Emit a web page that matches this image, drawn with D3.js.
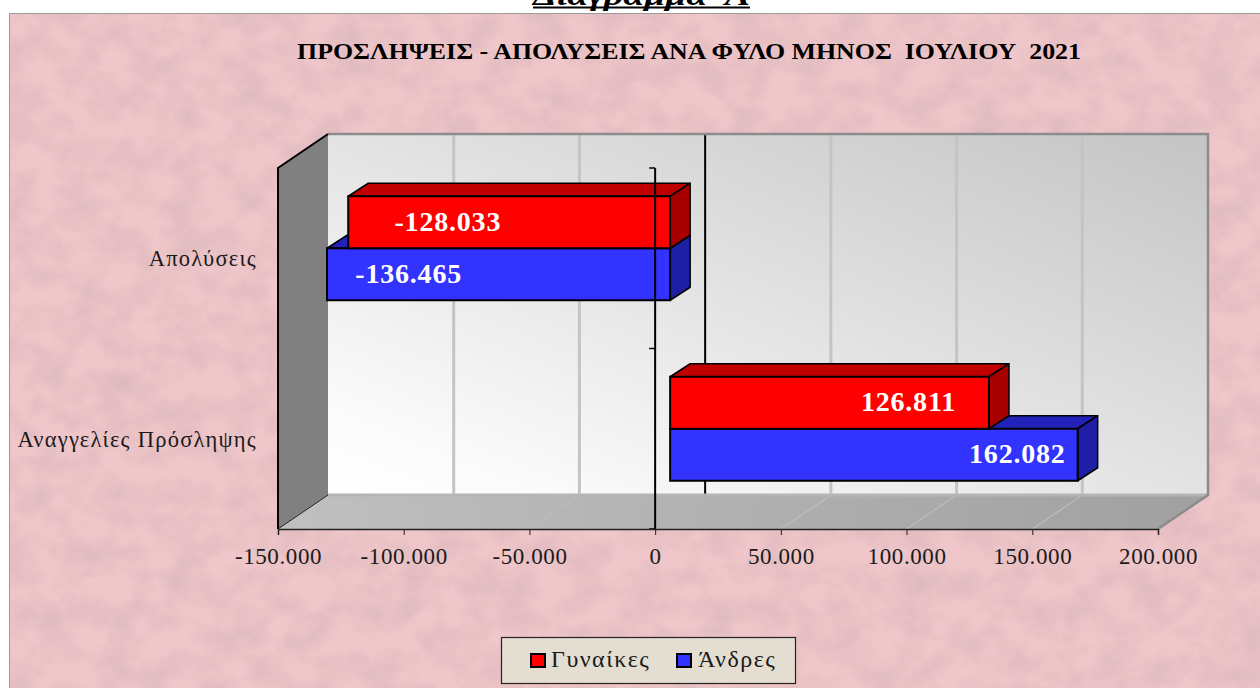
<!DOCTYPE html>
<html lang="el"><head><meta charset="utf-8">
<script src="https://cdn.jsdelivr.net/npm/d3@7/dist/d3.min.js"></script>
<style>html,body{margin:0;padding:0;background:#fff;overflow:hidden}svg{display:block}</style>
</head><body><svg id="c" width="1260" height="688"></svg>
<script>
const pageHeading = "Διάγραμμα  Α";
const chartTitle = "ΠΡΟΣΛΗΨΕΙΣ - ΑΠΟΛΥΣΕΙΣ ΑΝΑ ΦΥΛΟ ΜΗΝΟΣ  ΙΟΥΛΙΟΥ  2021";
const categories = ["Απολύσεις", "Αναγγελίες Πρόσληψης"];
const seriesNames = ["Γυναίκες", "Άνδρες"];
const women = [-128033, 126811];
const men = [-136465, 162082];
const tickValues = [-150000, -100000, -50000, 0, 50000, 100000, 150000, 200000];
const seriesFill = ["#ff0000", "#3333ff"];
const seriesTop = ["#c00000", "#2222bb"];
const seriesSide = ["#a80000", "#1f1fa6"];

const fmt = v => d3.format(",")(v).replace(/,/g, ".").replace("\u2212", "-");
const svg = d3.select("#c");
const defs = svg.append("defs");

function marble(id, freq, seed, rgb, gain, cut){
  const f = defs.append("filter").attr("id",id).attr("x",0).attr("y",0).attr("width","100%").attr("height","100%");
  f.append("feTurbulence").attr("type","fractalNoise").attr("baseFrequency",freq).attr("numOctaves",5).attr("seed",seed).attr("result","n");
  f.append("feColorMatrix").attr("in","n").attr("type","matrix")
   .attr("values",`0 0 0 0 ${rgb[0]}  0 0 0 0 ${rgb[1]}  0 0 0 0 ${rgb[2]}  ${gain} 0 0 0 ${cut}`).attr("result","t");
  f.append("feMerge").call(m=>{m.append("feMergeNode").attr("in","SourceGraphic");m.append("feMergeNode").attr("in","t");});
}
marble("marble","0.03 0.035",7,[0.72,0.48,0.51],1.7,-0.58);
marble("paper","0.05",3,[0.78,0.74,0.66],1.4,-0.5);

const g1 = defs.append("linearGradient").attr("id","wall").attr("x1",0).attr("y1",1).attr("x2",1).attr("y2",0);
g1.append("stop").attr("offset",0).attr("stop-color","#ffffff");
g1.append("stop").attr("offset",0.12).attr("stop-color","#fbfbfb");
g1.append("stop").attr("offset",1).attr("stop-color","#c4c4c4");
const g2 = defs.append("linearGradient").attr("id","floor");
g2.append("stop").attr("offset",0).attr("stop-color","#c0c0c0");
g2.append("stop").attr("offset",1).attr("stop-color","#a0a0a0");

// page background
svg.append("rect").attr("width",1260).attr("height",688).attr("fill","#fff");
svg.append("text").attr("x",533).attr("y",5).attr("font-family","Liberation Serif").attr("font-weight",700)
  .attr("font-style","italic").attr("font-size",29).attr("xml:space","preserve").attr("textLength",217)
  .attr("lengthAdjust","spacingAndGlyphs").text(pageHeading);
svg.append("line").attr("x1",533).attr("x2",750).attr("y1",7.5).attr("y2",7.5).attr("stroke","#000").attr("stroke-width",2);
svg.append("rect").attr("x",10).attr("y",14).attr("width",1250).attr("height",674).attr("fill","#efc6c9").attr("filter","url(#marble)");
svg.append("path").attr("d","M9.5 688V13.5H1260").attr("fill","none").attr("stroke","#9a9a9a");

// scales
const x = d3.scaleLinear().domain([-150000,200000]).range([278,1158]);
const y = d3.scaleBand().domain(categories).range([168,529]);
const inner = d3.scaleBand().domain(seriesNames).range([0,104]);
const wallDx = 50, wallDy = -34;      // depth of the chart box
const barDx = 20, barDy = -13;        // depth of a bar
const barOx = 15, barOy = -10;        // bar position inside the box
const top0 = y.range()[0], bot0 = y.range()[1], l = x.range()[0], r = x.range()[1];

const pts = a => a.map(p=>p.join(",")).join(" ");
// side wall, floor, back wall
svg.append("polygon").attr("points",pts([[l,top0],[l+wallDx,top0+wallDy],[l+wallDx,bot0+wallDy],[l,bot0]])).attr("fill","#808080");
svg.append("polygon").attr("points",pts([[l,bot0],[l+wallDx,bot0+wallDy],[r+wallDx,bot0+wallDy],[r,bot0]])).attr("fill","url(#floor)");
svg.append("rect").attr("x",l+wallDx).attr("y",top0+wallDy).attr("width",r-l).attr("height",bot0-top0).attr("fill","url(#wall)");

// gridlines
tickValues.slice(1,-1).forEach(v=>{
  const X = x(v)+wallDx, zero = v===0;
  if(!zero) svg.append("line").attr("x1",x(v)).attr("y1",bot0).attr("x2",X).attr("y2",bot0+wallDy)
    .attr("stroke","#bdbdbd").attr("stroke-width",1.2);
  svg.append("line").attr("x1",X).attr("x2",X).attr("y1",top0+wallDy).attr("y2",bot0+wallDy)
    .attr("stroke",zero?"#000":"#c4c4c4").attr("stroke-width",zero?2:3);
});
// box edges
svg.append("path").attr("d",`M${l+wallDx} ${bot0+wallDy}H${r+wallDx}`).attr("fill","none").attr("stroke","#b5b5b5").attr("stroke-width",3);
svg.append("path").attr("d",`M${l+wallDx} ${top0+wallDy}H${r+wallDx}V${bot0+wallDy}L${r} ${bot0}`).attr("fill","none").attr("stroke","#8c8c8c").attr("stroke-width",2.5);
svg.append("path").attr("d",`M${l} ${bot0}V${top0}L${l+wallDx} ${top0+wallDy}`).attr("fill","none").attr("stroke","#000").attr("stroke-width",2);
svg.append("line").attr("x1",l).attr("y1",bot0).attr("x2",l+wallDx).attr("y2",bot0+wallDy).attr("stroke","#222").attr("stroke-width",1);

// bars: the men's bar is drawn first, the women's bar sits on top of it
const rows = [];
categories.forEach((c,i)=>{
  [men,women].forEach(s=>{
    const k = s===women?0:1;
    rows.push({c,k,name:seriesNames[k],v:s[i]});
  });
});
const barG = svg.append("g");
rows.forEach(d=>{
  const x0 = x(0)+barOx, x1 = x(d.v)+barOx;
  const a = Math.min(x0,x1), b = Math.max(x0,x1);
  const t = y(d.c)+ (y.bandwidth()-inner.range()[1])/2 + inner(d.name) + barOy;
  const h = inner.bandwidth();
  d.a=a;d.b=b;d.t=t;d.h=h;
  const g = barG.append("g");
  g.append("polygon").attr("points",pts([[a,t],[a+barDx,t+barDy],[b+barDx,t+barDy],[b,t]])).attr("fill",seriesTop[d.k]).attr("stroke","#000").attr("stroke-width",1.5).attr("stroke-linejoin","round");
  g.append("polygon").attr("points",pts([[b,t],[b+barDx,t+barDy],[b+barDx,t+h+barDy],[b,t+h]])).attr("fill",seriesSide[d.k]).attr("stroke","#000").attr("stroke-width",1.5).attr("stroke-linejoin","round");
  g.append("rect").attr("x",a).attr("y",t).attr("width",b-a).attr("height",h).attr("fill",seriesFill[d.k]).attr("stroke","#000").attr("stroke-width",2);
});
// the front axis line runs over the bars
const ay = svg.append("g").attr("transform",`translate(${x(0)},0)`);
ay.append("line").attr("y1",top0).attr("y2",bot0).attr("stroke","#000").attr("stroke-width",2);
[0,1,2].forEach(i=>{
  const Y = i<2 ? y(categories[i]) : bot0;
  ay.append("line").attr("x1",-6).attr("x2",0).attr("y1",Y).attr("y2",Y).attr("stroke","#000").attr("stroke-width",1.5);
});
// value labels: inset of the label's right end from the bar's ends
const labelInset = d => d.v<0 ? d.a+(d.k===0?153:135) : d.b-(d.k===0?33:12);
rows.forEach(d=>{
  svg.append("text").attr("x",labelInset(d)).attr("y",d.t+d.h/2+8.5)
    .attr("text-anchor","end").attr("fill","#fff").attr("font-family","Liberation Serif").attr("font-weight",700)
    .attr("font-size",28).attr("letter-spacing",0.8).text(fmt(d.v));
});

// axes
const ax = svg.append("g").attr("transform",`translate(0,${bot0})`).call(d3.axisBottom(x).tickValues(tickValues).tickFormat(fmt).tickSize(6).tickPadding(13));
ax.select(".domain").attr("stroke","#222").attr("stroke-width",1.5);
ax.selectAll("line").attr("stroke","#222");
ax.selectAll("text").attr("font-family","Liberation Serif").attr("font-size",23).attr("fill","#1a1a1a").attr("letter-spacing",0.6);

categories.forEach(c=>{
  svg.append("text").attr("x",257).attr("y",y(c)+y.bandwidth()/2+8).attr("text-anchor","end")
    .attr("font-family","Liberation Serif").attr("font-size",22.5).attr("fill","#1a1a1a").attr("letter-spacing",1.25).text(c);
});

// title
svg.append("text").attr("x",297).attr("y",59).attr("font-family","Liberation Serif")
  .attr("font-weight",700).attr("font-size",23.5).attr("xml:space","preserve").attr("fill","#000")
  .attr("textLength",784).attr("lengthAdjust","spacingAndGlyphs").text(chartTitle);

// legend
svg.append("rect").attr("x",501.5).attr("y",637.5).attr("width",294).attr("height",46).attr("fill","#e4ddd0").attr("filter","url(#paper)");
svg.append("rect").attr("x",501.5).attr("y",637.5).attr("width",294).attr("height",46).attr("fill","none").attr("stroke","#222").attr("stroke-width",1.2);
const lx = [531,677], tx = [551,698];
seriesNames.forEach((n,i)=>{
  svg.append("rect").attr("x",lx[i]).attr("y",654).attr("width",14).attr("height",13).attr("fill",seriesFill[i]).attr("stroke","#000").attr("stroke-width",2);
  svg.append("text").attr("x",tx[i]).attr("y",667).attr("font-family","Liberation Serif").attr("font-size",24).attr("letter-spacing",1.5).attr("fill","#1a1a1a").text(n);
});
</script></body></html>
